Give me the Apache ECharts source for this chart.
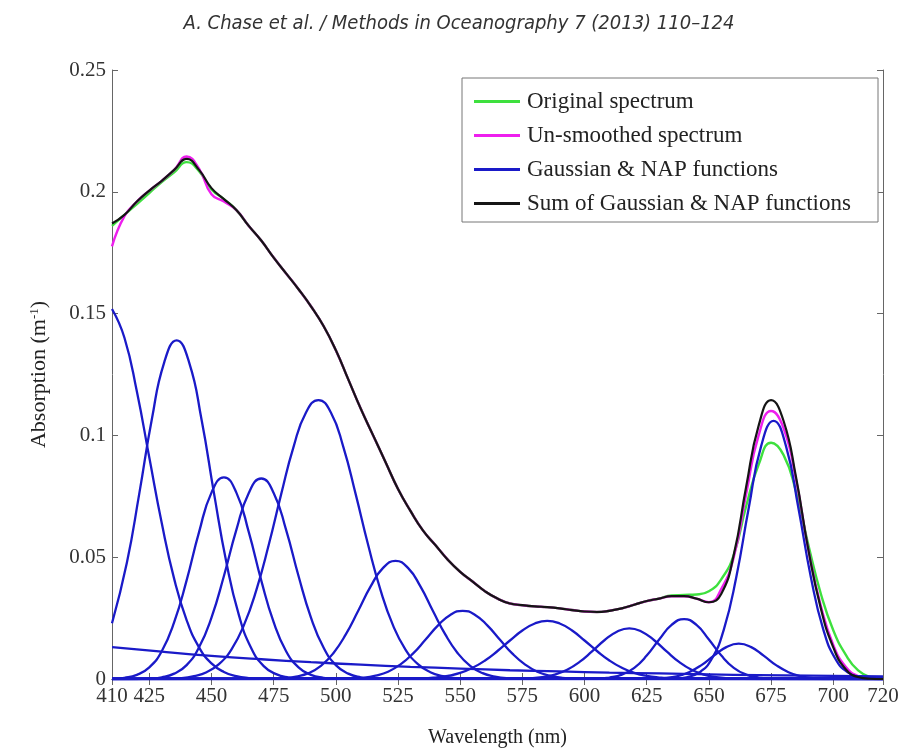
<!DOCTYPE html>
<html>
<head>
<meta charset="utf-8">
<script src="https://cdn.jsdelivr.net/npm/echarts@6/dist/echarts.min.js"></script>
<style>html,body{margin:0;padding:0;background:#fff;}#chart{width:918px;height:753px;}</style>
</head>
<body>
<div id="chart"></div>
<script>
// ---- data ----
const wavelengths = [410,415,420,425,430,435,440,445,450,455,460,465,470,475,480,485,490,495,500,505,510,515,520,525,530,535,540,545,550,555,560,565,570,575,580,585,590,595,600,605,610,615,620,625,630,635,640,645,650,655,660,665,670,675,680,685,690,695,700,705,710,715,720];

const originalSpectrum = [0.186,0.1905,0.195,0.1995,0.204,0.208,0.2122,0.2085,0.201,0.197,0.1925,0.186,0.180,0.173,0.1665,0.160,0.153,0.145,0.135,0.123,0.111,0.100,0.089,0.078,0.069,0.061,0.055,0.049,0.044,0.040,0.036,0.033,0.031,0.0303,0.0298,0.0295,0.029,0.0283,0.0277,0.0275,0.028,0.029,0.0305,0.032,0.033,0.0343,0.0345,0.0347,0.036,0.041,0.051,0.071,0.088,0.097,0.092,0.077,0.055,0.035,0.020,0.010,0.0035,0.0008,0];

const unsmoothedSpectrum = [0.1776,0.190,0.196,0.2005,0.2045,0.209,0.2145,0.2095,0.199,0.196,0.1925,0.186,0.180,0.173,0.1665,0.160,0.153,0.145,0.135,0.123,0.111,0.100,0.089,0.078,0.069,0.061,0.055,0.049,0.044,0.040,0.036,0.033,0.031,0.0303,0.0298,0.0295,0.029,0.0283,0.0277,0.0275,0.028,0.029,0.0305,0.032,0.033,0.034,0.034,0.033,0.0315,0.037,0.050,0.076,0.100,0.110,0.103,0.082,0.053,0.030,0.014,0.005,0.0012,0.0002,0];

const sumOfFunctions = [0.187,0.1905,0.196,0.2005,0.2045,0.209,0.2135,0.209,0.2015,0.197,0.1925,0.186,0.180,0.173,0.1665,0.160,0.153,0.145,0.135,0.123,0.111,0.100,0.089,0.078,0.069,0.061,0.055,0.049,0.044,0.040,0.036,0.033,0.031,0.0303,0.0298,0.0295,0.029,0.0283,0.0277,0.0275,0.028,0.029,0.0305,0.032,0.033,0.034,0.034,0.033,0.0315,0.035,0.051,0.079,0.104,0.1145,0.106,0.083,0.053,0.029,0.013,0.004,0.0008,0.0001,0];

const gauss408 = [[410,0.1519],[415,0.1401],[420,0.1180],[425,0.0909],[430,0.0640],[435,0.0411],[440,0.0242],[445,0.0130],[450,0.0064],[455,0.0029],[460,0.0012],[465,0.0004],[470,0.0001],[720,0]];
const gauss436 = [[410,0.0229],[416,0.0478],[421,0.0763],[426,0.1065],[431,0.1300],[436,0.139],[441,0.1300],[446,0.1065],[451,0.0763],[456,0.0478],[461,0.0263],[466,0.0126],[471,0.0053],[476,0.0020],[481,0.0006],[486,0.0001],[720,0]];
const gauss455 = [[410,0.0001],[415,0.0005],[420,0.0017],[425,0.0048],[430,0.0114],[435,0.0233],[440,0.0405],[445,0.0603],[450,0.0765],[455,0.0828],[460,0.0765],[465,0.0603],[470,0.0405],[475,0.0233],[480,0.0114],[485,0.0048],[490,0.0017],[495,0.0005],[500,0.0001],[720,0]];
const gauss470 = [[410,0],[420,0],[425,0.0002],[430,0.0007],[435,0.0022],[440,0.0057],[445,0.0130],[450,0.0252],[455,0.0423],[460,0.0612],[465,0.0764],[470,0.0823],[475,0.0764],[480,0.0612],[485,0.0423],[490,0.0252],[495,0.0130],[500,0.0057],[505,0.0022],[510,0.0007],[515,0.0002],[520,0],[720,0]];
const gauss493 = [[410,0],[433,0.0002],[438,0.0004],[443,0.0012],[448,0.0028],[453,0.0061],[458,0.0121],[463,0.0220],[468,0.0364],[473,0.0550],[478,0.0758],[483,0.0953],[488,0.1094],[493,0.1145],[498,0.1094],[503,0.0953],[508,0.0758],[513,0.0550],[518,0.0364],[523,0.0220],[528,0.0121],[533,0.0061],[538,0.0028],[543,0.0012],[548,0.0004],[553,0.0002],[720,0]];
const gauss524 = [[410,0],[474,0.0001],[479,0.0003],[484,0.0010],[489,0.0024],[494,0.0054],[499,0.0106],[504,0.0183],[509,0.0280],[514,0.0380],[519,0.0456],[524,0.0485],[529,0.0456],[534,0.0380],[539,0.0280],[544,0.0183],[549,0.0106],[554,0.0054],[559,0.0024],[564,0.0010],[569,0.0003],[574,0.0001],[720,0]];
const gauss551 = [[410,0],[506,0.0002],[511,0.0005],[516,0.0014],[521,0.0030],[526,0.0060],[531,0.0104],[536,0.0161],[541,0.0219],[546,0.0263],[551,0.0280],[556,0.0263],[561,0.0219],[566,0.0161],[571,0.0104],[576,0.0060],[581,0.0030],[586,0.0014],[591,0.0005],[596,0.0002],[720,0]];
const gauss585 = [[410,0],[530,0.0001],[535,0.0002],[540,0.0006],[545,0.0013],[550,0.0025],[555,0.0046],[560,0.0076],[565,0.0115],[570,0.0158],[575,0.0199],[580,0.0228],[585,0.0239],[590,0.0228],[595,0.0199],[600,0.0158],[605,0.0115],[610,0.0076],[615,0.0046],[620,0.0025],[625,0.0013],[630,0.0006],[635,0.0002],[640,0.0001],[720,0]];
const gauss618 = [[410,0],[573,0.0001],[578,0.0003],[583,0.0008],[588,0.0018],[593,0.0038],[598,0.0070],[603,0.0113],[608,0.0159],[613,0.0194],[618,0.0208],[623,0.0194],[628,0.0159],[633,0.0113],[638,0.0070],[643,0.0038],[648,0.0018],[653,0.0008],[658,0.0003],[663,0.0001],[720,0]];
const gauss640 = [[410,0],[605,0.0001],[610,0.0006],[615,0.0018],[620,0.0046],[625,0.0096],[630,0.0162],[635,0.0222],[640,0.0246],[645,0.0222],[650,0.0162],[655,0.0096],[660,0.0046],[665,0.0018],[670,0.0006],[675,0.0001],[720,0]];
const gauss662 = [[410,0],[627,0.0001],[632,0.0004],[637,0.0011],[642,0.0028],[647,0.0057],[652,0.0096],[657,0.0131],[662,0.0145],[667,0.0131],[672,0.0096],[677,0.0057],[682,0.0028],[687,0.0011],[692,0.0004],[697,0.0001],[720,0]];
const gauss676 = [[410,0],[636,0.0001],[641,0.0007],[646,0.0026],[651,0.0080],[656,0.0203],[661,0.0418],[666,0.0701],[671,0.0956],[676,0.106],[681,0.0956],[686,0.0701],[691,0.0418],[696,0.0203],[701,0.0080],[706,0.0026],[711,0.0007],[716,0.0001],[720,0]];
const napFunction = [[410,0.0131],[430,0.0112],[450,0.0095],[470,0.0081],[490,0.0069],[510,0.0059],[530,0.0050],[550,0.0043],[570,0.0036],[590,0.0031],[610,0.0026],[630,0.0023],[650,0.0019],[670,0.0016],[690,0.0014],[710,0.0012],[720,0.0011]];

const xTickValues = [410,425,450,475,500,525,550,575,600,625,650,675,700,720];
const yTickValues = [0,0.05,0.1,0.15,0.2,0.25];

const legendNames = ['Original spectrum','Un-smoothed spectrum','Gaussian & NAP functions','Sum of Gaussian & NAP functions'];
const titleText = 'A. Chase et al. / Methods in Oceanography 7 (2013) 110\u2013124';

// ---- chart ----
const GREEN = '#3ee03e', MAGENTA = '#ee1fee', BLUE = '#1a1ac8', BLACK = '#151515';
const serif = '"Liberation Serif","Times New Roman",serif';

function pairs(xs, ys){ return xs.map((x,i)=>[x, ys[i]]); }
function lineSeries(name, data, color, width, z){
  return {name, type:'line', data, xAxisIndex:0, yAxisIndex:0, symbol:'none', showSymbol:false,
    smooth:0.5, lineStyle:{color, width}, itemStyle:{color}, z, silent:true, animation:false};
}

const gaussians = [gauss408,gauss436,gauss455,gauss470,gauss493,gauss524,gauss551,gauss585,gauss618,gauss640,gauss662,gauss676,napFunction];

const series = [
  lineSeries(legendNames[0], pairs(wavelengths, originalSpectrum), GREEN, 2.4, 3),
  lineSeries(legendNames[1], pairs(wavelengths, unsmoothedSpectrum), MAGENTA, 2.4, 4),
  ...gaussians.map(g => lineSeries(legendNames[2], g, BLUE, 2.3, 5)),
  lineSeries(legendNames[3], pairs(wavelengths, sumOfFunctions), BLACK, 2.2, 6)
];

const tickStyle = {show:true, inside:true, length:6, lineStyle:{color:'#666', width:1}};
const chart = echarts.init(document.getElementById('chart'), null, {renderer:'canvas'});
chart.setOption({
  animation:false,
  backgroundColor:'#fff',
  title:{text:titleText, left:'center', top:9,
    textStyle:{fontFamily:'"Liberation Sans Narrow","DejaVu Sans Condensed",sans-serif', fontStyle:'italic', fontWeight:'normal', fontSize:20, color:'#333'}},
  grid:{left:112, right:35, top:70, bottom:73, containLabel:false},
  graphic:[{type:'rect', shape:{x:462, y:78, width:416, height:144}, style:{fill:'#fff', stroke:'#777', lineWidth:1}, z:1, silent:true}],
  legend:{orient:'vertical', left:474, top:90, padding:0, itemGap:11, itemWidth:46, itemHeight:3,
    data:legendNames.map(n=>({name:n, icon:'rect'})), selectedMode:false,
    textStyle:{fontFamily:serif, fontSize:23, color:'#222', lineHeight:22, padding:[0,0,0,2]}},
  xAxis:[
    {type:'value', min:410, max:720, position:'bottom',
     name:'Wavelength (nm)', nameLocation:'middle', nameGap:49,
     nameTextStyle:{fontFamily:serif, fontSize:20, color:'#222'},
     axisLine:{show:true, lineStyle:{color:'#666', width:1}},
     axisTick:Object.assign({customValues:xTickValues}, tickStyle),
     axisLabel:{customValues:xTickValues, fontFamily:serif, fontSize:21, color:'#333', margin:7, hideOverlap:false, showMinLabel:true, showMaxLabel:true},
     splitLine:{show:false}},
    {type:'value', min:410, max:720, position:'top',
     axisLine:{show:true, lineStyle:{color:'#666', width:1}},
     axisTick:Object.assign({customValues:xTickValues}, tickStyle),
     axisLabel:{show:false}, splitLine:{show:false}}
  ],
  yAxis:[
    {type:'value', min:0, max:0.25, interval:0.05, position:'left',
     name:'Absorption (m{sup|-1})', nameLocation:'middle', nameGap:62, nameRotate:90,
     nameTextStyle:{fontFamily:serif, fontSize:22, color:'#222',
       rich:{sup:{fontFamily:serif, fontSize:13, color:'#222', verticalAlign:'top', padding:[0,0,9,0]}}},
     axisLine:{show:true, lineStyle:{color:'#666', width:1}},
     axisTick:tickStyle,
     axisLabel:{fontFamily:serif, fontSize:21, color:'#333', margin:6,
       formatter:v=>String(parseFloat(v.toFixed(2)))},
     splitLine:{show:false}},
    {type:'value', min:0, max:0.25, interval:0.05, position:'right',
     axisLine:{show:true, lineStyle:{color:'#666', width:1}},
     axisTick:tickStyle, axisLabel:{show:false}, splitLine:{show:false}}
  ],
  series
});
</script>
</body>
</html>
